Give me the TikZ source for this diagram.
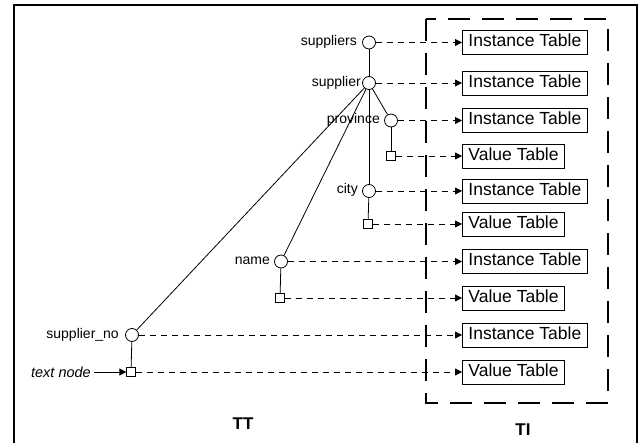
\documentclass[tikz,border=0pt]{standalone}
\usepackage{fontspec}
\setmainfont{Liberation Sans}
\usetikzlibrary{arrows.meta}
\begin{document}
\begin{tikzpicture}[x=1pt,y=-1pt,
 tn/.style={circle,draw,inner sep=0pt,minimum size=13pt,line width=0.8pt},
 vn/.style={rectangle,draw,inner sep=0pt,minimum size=8.5pt,line width=0.8pt},
 tab/.style={draw,line width=0.9pt,inner ysep=0pt,inner xsep=6pt,anchor=west,font=\fontsize{17.5}{17.5}\selectfont,text height=13pt,text depth=4pt,minimum height=24pt},
 lab/.style={anchor=east,font=\fontsize{14}{14}\selectfont,inner sep=0pt},
 link/.style={dash pattern=on 6pt off 5pt,line width=0.8pt,-{Triangle[length=7pt,width=7pt]}},
 tree/.style={line width=0.8pt},
 big/.style={font=\fontsize{17}{17}\selectfont\bfseries}]
\useasboundingbox (0,0) rectangle (639,443);
\draw[line width=2pt] (13.5,450) -- (13.5,5.5) -- (636.5,5.5) -- (636.5,450);
% dashed TI box
\draw[line width=1.3pt,dash pattern=on 22pt off 12pt] (426,19) rectangle (608,403);
% tree nodes
\node[tn] (n1) at (369,42.5) {};
\node[tn] (n2) at (369,83) {};
\node[tn] (n3) at (391,120.5) {};
\node[vn] (n4) at (391,156) {};
\node[tn] (n5) at (369,191) {};
\node[vn] (n6) at (368,224) {};
\node[tn] (n7) at (281,261.5) {};
\node[vn] (n8) at (280,298) {};
\node[tn] (n9) at (132,335) {};
\node[vn] (n10) at (131,372) {};
% labels
\node[lab] (l1) at (357,42) {suppliers};
\node[lab] (l2) at (361,83) {supplier};
\node[lab] (l3) at (380,120) {province};
\node[lab] (l5) at (358,190) {city};
\node[lab] (l7) at (270,261) {name};
\node[lab] (l9) at (119,335) {supplier\_no};
\node[lab,font=\fontsize{14.5}{14.5}\selectfont\itshape] (l10) at (91,372) {text node};
\draw[line width=0.8pt,-{Triangle[length=7pt,width=7pt]}] (l10.east) ++(3,0) coordinate (a0) (a0) -- (n10.west);
% tree edges
\draw[tree] (n1) -- (n2);
\draw[tree] (n2) -- (n3);
\draw[tree] (n2) -- (n5);
\draw[tree] (n2) -- (n7);
\draw[tree] (n2) -- (n9);
\draw[tree] (n3) -- (n4);
\draw[tree] (n5) -- (n6);
\draw[tree] (n7) -- (n8);
\draw[tree] (n9) -- (n10);
% tables
\node[tab] (t1) at (462,42.5) {Instance Table};
\node[tab] (t2) at (462,83) {Instance Table};
\node[tab] (t3) at (462,120.5) {Instance Table};
\node[tab] (t4) at (462,156) {Value Table};
\node[tab] (t5) at (462,191) {Instance Table};
\node[tab] (t6) at (462,224) {Value Table};
\node[tab] (t7) at (462,261.5) {Instance Table};
\node[tab] (t8) at (462,298) {Value Table};
\node[tab] (t9) at (462,335) {Instance Table};
\node[tab] (t10) at (462,372) {Value Table};
\foreach \i in {1,...,10} {\draw[link] (n\i.east) -- (t\i.west);}
% titles
\node[big] (tt) at (243,424) {TT};
\node[big] (ti) at (523,430) {TI};
\end{tikzpicture}
\end{document}
